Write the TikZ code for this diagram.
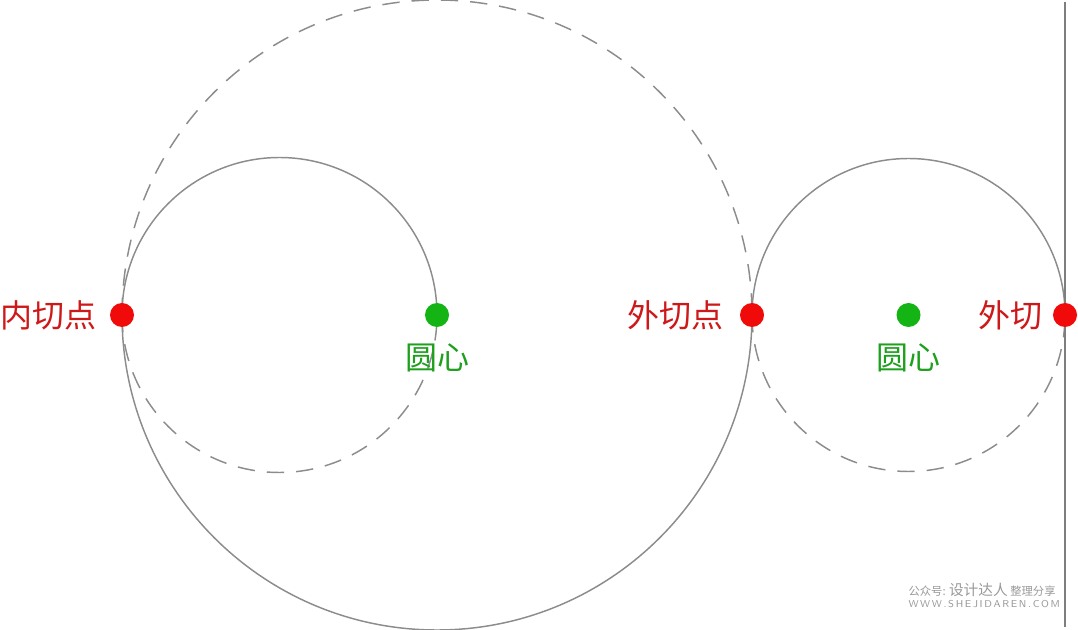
\documentclass[tikz,border=0pt]{standalone}
\usepackage{fontspec}
\newfontfamily\cjk{Noto Sans CJK SC}
\usetikzlibrary{positioning}

\definecolor{ringgray}{RGB}{140,140,140}
\definecolor{dotred}{RGB}{240,10,10}
\definecolor{dotgreen}{RGB}{20,180,20}
\definecolor{txtred}{RGB}{205,25,25}
\definecolor{txtgreen}{RGB}{30,160,30}

\tikzset{every picture/.style={line width=0.75pt}}
\tikzset{
  ring/.style={draw=ringgray,line width=1.1pt},
  ringdash/.style={ring,dash pattern={on 13pt off 9pt}},
  tandot/.style={circle,fill=dotred,inner sep=0pt,minimum size=18pt,outer sep=0pt},
  cendot/.style={circle,fill=dotgreen,inner sep=0pt,minimum size=18pt,outer sep=0pt},
  tanlbl/.style={text=txtred,font=\cjk\fontsize{24}{26}\selectfont,inner sep=0pt},
  cenlbl/.style={text=txtgreen,font=\cjk\fontsize{24}{26}\selectfont,inner sep=0pt},
}

\begin{document}
\begin{tikzpicture}[x=0.75pt,y=0.75pt,yscale=-1,xscale=1]
	\useasboundingbox (0,0) rectangle (1078,630);

	% centres and tangent points
	\coordinate (inPt) at (122,315);
	\coordinate (outPt) at (752,315);
	\coordinate (sidePt) at (1065,315);
	\coordinate (cenL) at (437,315);
	\coordinate (cenR) at (908.5,315);
	\coordinate (lineTop) at (1065,2);
	\coordinate (lineBot) at (1065,627);

	%Big circle (around the left centre)
	\draw [ringdash] (inPt) arc [start angle=180,end angle=360,radius=315];
	\draw [ring] (inPt) arc [start angle=180,end angle=0,radius=315];
	%Small circle, inner tangent
	\draw [ring] (inPt) arc [start angle=180,end angle=360,radius=157.5];
	\draw [ringdash] (inPt) arc [start angle=180,end angle=0,radius=157.5];
	%Small circle, outer tangent
	\draw [ring] (outPt) arc [start angle=180,end angle=360,radius=156.5];
	\draw [ringdash] (outPt) arc [start angle=180,end angle=0,radius=156.5];
	%Straight Line, tangent
	\draw [draw=ringgray!90!black,line width=1.5pt] (lineTop) -- (lineBot);

	% Dots
	\node [tandot] (inDot) at (inPt) {};
	\node [tandot] (outDot) at (outPt) {};
	\node [tandot] (sideDot) at (sidePt) {};
	\node [cendot] (cenDotL) at (cenL) {};
	\node [cendot] (cenDotR) at (cenR) {};

	% Text Node
	\node [tanlbl,left=10pt of inDot] (inLbl) {内切点};
	\node [tanlbl,left=12pt of outDot] (outLbl) {外切点};
	\node [tanlbl,left=7.5pt of sideDot] (sideLbl) {外切};
	\node [cenlbl,below=12pt of cenDotL] (cenLblL) {圆心};
	\node [cenlbl,below=12pt of cenDotR] (cenLblR) {圆心};

	% watermark
	\node [text=black!40,font=\cjk\fontsize{8.5}{10}\selectfont,inner sep=0pt,anchor=west] (wm) at (908,590) {公众号: {\fontsize{11}{12}\selectfont 设计达人} 整理分享};
	\node [text=black!40,font=\sffamily\fontsize{7.5}{8}\selectfont,inner sep=0pt,anchor=north west] (wmUrl) at (908,600) {W\,W\,W\,.\,S\,H\,E\,J\,I\,D\,A\,R\,E\,N\,.\,C\,O\,M};

\end{tikzpicture}
\end{document}
